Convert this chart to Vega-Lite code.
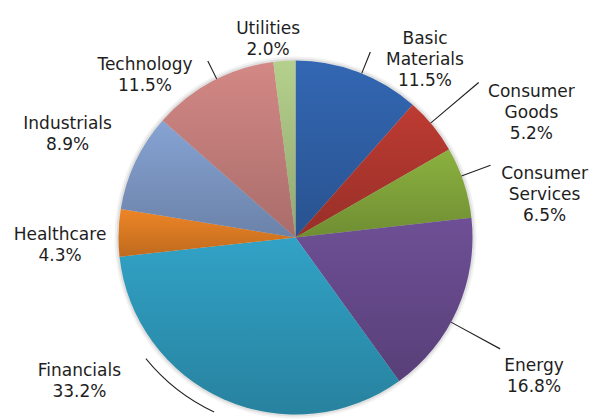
{
  "$schema": "https://vega.github.io/schema/vega-lite/v6.json",
  "width": 591,
  "height": 475,
  "autosize": {"type": "none"},
  "padding": 0,
  "background": "white",
  "config": {
    "view": {"stroke": null},
    "text": {"font": "DejaVu Sans", "fontSize": 17, "lineHeight": 21, "color": "#1e1e1e", "lineBreak": "\n", "align": "center", "baseline": "middle"}
  },
  "data": {
    "values": [
      {"order": 1, "sector": "Basic Materials", "pct": 11.5, "label": "Basic\nMaterials\n11.5%"},
      {"order": 2, "sector": "Consumer Goods", "pct": 5.2, "label": "Consumer\nGoods\n5.2%"},
      {"order": 3, "sector": "Consumer Services", "pct": 6.5, "label": "Consumer\nServices\n6.5%"},
      {"order": 4, "sector": "Energy", "pct": 16.8, "label": "Energy\n16.8%"},
      {"order": 5, "sector": "Financials", "pct": 33.2, "label": "Financials\n33.2%"},
      {"order": 6, "sector": "Healthcare", "pct": 4.3, "label": "Healthcare\n4.3%"},
      {"order": 7, "sector": "Industrials", "pct": 8.9, "label": "Industrials\n8.9%"},
      {"order": 8, "sector": "Technology", "pct": 11.5, "label": "Technology\n11.5%"},
      {"order": 9, "sector": "Utilities", "pct": 2.0, "label": "Utilities\n2.0%"}
    ]
  },
  "transform": [
    {"stack": "pct", "groupby": [], "sort": [{"field": "order", "order": "ascending"}], "as": ["v0", "v1"]}
  ],
  "encoding": {
    "theta": {"field": "v0", "type": "quantitative", "stack": null, "scale": {"domain": [0, 99.9]}}
  },
  "layer": [
    {
      "mark": {"type": "arc", "radius": 181, "fill": "#000000", "opacity": 0.05},
      "encoding": {"theta2": {"field": "v1"}}
    },
    {
      "mark": {"type": "arc", "radius": 179, "fill": "#000000", "opacity": 0.08},
      "encoding": {"theta2": {"field": "v1"}}
    },
    {
      "mark": {"type": "arc", "radius": 177},
      "encoding": {
        "theta2": {"field": "v1"},
        "color": {
          "field": "sector", "type": "nominal", "legend": null,
          "scale": {
            "domain": ["Basic Materials", "Consumer Goods", "Consumer Services", "Energy", "Financials", "Healthcare", "Industrials", "Technology", "Utilities"],
            "range": ["#3367B3", "#BD3B32", "#8BB13F", "#6E4F96", "#31A2C6", "#EE8526", "#86A3D3", "#D38885", "#B5D08C"]
          }
        }
      }
    },
    {
      "mark": {
        "type": "arc", "radius": 177,
        "fill": {"gradient": "linear", "x1": 0, "y1": 0, "x2": 0, "y2": 1,
          "stops": [{"offset": 0, "color": "rgba(0,0,0,0)"}, {"offset": 1, "color": "rgba(0,0,0,0.2)"}]}
      },
      "encoding": {"theta2": {"field": "v1"}}
    },
    {
      "transform": [{"filter": {"field": "sector", "equal": "Basic Materials"}}],
      "layer": [
        {"mark": {"type": "text", "radius": 237, "thetaOffset": 0.578}, "encoding": {"text": {"field": "label"}}},
        {"mark": {"type": "arc", "radius": 200, "radius2": 177, "thetaOffset": 0.3805, "theta2Offset": 0.3865, "fill": "#222222"}, "encoding": {"theta2": {"field": "v0"}}}
      ]
    },
    {
      "transform": [{"filter": {"field": "sector", "equal": "Consumer Goods"}}],
      "layer": [
        {"mark": {"type": "text", "radius": 277, "thetaOffset": 0.296}, "encoding": {"text": {"field": "label"}}},
        {"mark": {"type": "arc", "radius": 240, "radius2": 177, "thetaOffset": 0.1424, "theta2Offset": 0.1477, "fill": "#222222"}, "encoding": {"theta2": {"field": "v0"}}}
      ]
    },
    {
      "transform": [{"filter": {"field": "sector", "equal": "Consumer Services"}}],
      "layer": [
        {"mark": {"type": "text", "radius": 257, "thetaOffset": 0.271}, "encoding": {"text": {"field": "label"}}},
        {"mark": {"type": "arc", "radius": 208, "radius2": 177, "thetaOffset": 0.1627, "theta2Offset": 0.1684, "fill": "#222222"}, "encoding": {"theta2": {"field": "v0"}}}
      ]
    },
    {
      "transform": [{"filter": {"field": "sector", "equal": "Energy"}}],
      "layer": [
        {"mark": {"type": "text", "radius": 271, "thetaOffset": 0.606}, "encoding": {"text": {"field": "label"}}},
        {"mark": {"type": "arc", "radius": 233, "radius2": 177, "thetaOffset": 0.6074, "theta2Offset": 0.6128, "fill": "#222222"}, "encoding": {"theta2": {"field": "v0"}}}
      ]
    },
    {
      "transform": [{"filter": {"field": "sector", "equal": "Financials"}}],
      "layer": [
        {"mark": {"type": "text", "radius": 254, "thetaOffset": 1.643}, "encoding": {"text": {"field": "label"}}},
        {"mark": {"type": "arc", "radius": 193, "radius2": 192, "thetaOffset": 1.0622, "theta2Offset": 1.516, "fill": "#222222"}, "encoding": {"theta2": {"field": "v0"}}}
      ]
    },
    {
      "transform": [{"filter": {"field": "sector", "equal": "Healthcare"}}],
      "layer": [
        {"mark": {"type": "text", "radius": 235.5, "thetaOffset": 0.119}, "encoding": {"text": {"field": "label"}}}
      ]
    },
    {
      "transform": [{"filter": {"field": "sector", "equal": "Industrials"}}],
      "layer": [
        {"mark": {"type": "text", "radius": 254.7, "thetaOffset": 0.301}, "encoding": {"text": {"field": "label"}}}
      ]
    },
    {
      "transform": [{"filter": {"field": "sector", "equal": "Technology"}}],
      "layer": [
        {"mark": {"type": "text", "radius": 229, "thetaOffset": 0.132}, "encoding": {"text": {"field": "label"}}},
        {"mark": {"type": "arc", "radius": 197, "radius2": 177, "thetaOffset": 0.3849, "theta2Offset": 0.3908, "fill": "#222222"}, "encoding": {"theta2": {"field": "v0"}}}
      ]
    },
    {
      "transform": [{"filter": {"field": "sector", "equal": "Utilities"}}],
      "layer": [
        {"mark": {"type": "text", "radius": 210, "thetaOffset": -0.005}, "encoding": {"text": {"field": "label"}}}
      ]
    }
  ]
}
